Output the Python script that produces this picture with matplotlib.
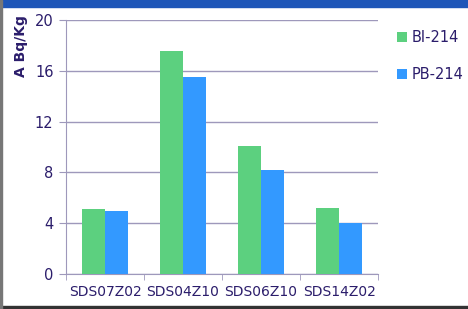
import numpy as np
import matplotlib.pyplot as plt
from matplotlib.patches import Rectangle

samples = ['SDS07Z02', 'SDS04Z10', 'SDS06Z10', 'SDS14Z02']
bi214 = [5.1, 17.6, 10.1, 5.2]
pb214 = [4.95, 15.5, 8.2, 4.0]

txt = '#2b1d6b'
grid = '#9e98bb'

fig = plt.figure(figsize=(4.68, 3.09), dpi=100)
# slide banner at top and frame at bottom/left
fig.patches.append(Rectangle((0, 0.978), 1, 0.022, transform=fig.transFigure, color='#1e56b8', zorder=0))
fig.patches.append(Rectangle((0, 0), 1, 0.01, transform=fig.transFigure, color='#333333', zorder=0))
fig.patches.append(Rectangle((0, 0), 0.004, 1, transform=fig.transFigure, color='#777777', zorder=0))

ax = fig.add_axes([0.141, 0.113, 0.667, 0.822])
x = np.arange(len(samples))
w = 0.29
ax.bar(x - w / 2, bi214, w, color='#5cd07f', label='BI-214', zorder=3)
ax.bar(x + w / 2, pb214, w, color='#3399ff', label='PB-214', zorder=3)

ax.set_xlim(-0.5, 3.5)
ax.set_ylim(0, 20)
ax.set_yticks([0, 4, 8, 12, 16, 20])
ax.yaxis.grid(True, color=grid, linewidth=1, zorder=0)
ax.set_xticks(x)
ax.set_xticklabels(samples)
ax.set_xticks(np.arange(-0.5, 4, 1), minor=True)
ax.tick_params(axis='x', which='major', length=0, pad=8, labelsize=10, labelcolor=txt)
ax.tick_params(axis='x', which='minor', length=4, color=grid)
ax.tick_params(axis='y', length=5, color=grid, labelsize=10.5, labelcolor=txt, pad=4)
for s in ['top', 'right']:
    ax.spines[s].set_visible(False)
ax.spines['left'].set_color(grid)
ax.spines['bottom'].set_color(grid)

fig.text(0.045, 0.95, 'A Bq/Kg', rotation=90, ha='center', va='top',
         fontsize=10, fontweight='bold', color=txt)

leg = fig.legend(loc='upper left', bbox_to_anchor=(0.82, 0.945), frameon=False,
                 handlelength=0.7, handleheight=0.7, handletextpad=0.3,
                 labelspacing=1.5, fontsize=10.5)
for t in leg.get_texts():
    t.set_color(txt)

fig.savefig('out.png', dpi=100)
